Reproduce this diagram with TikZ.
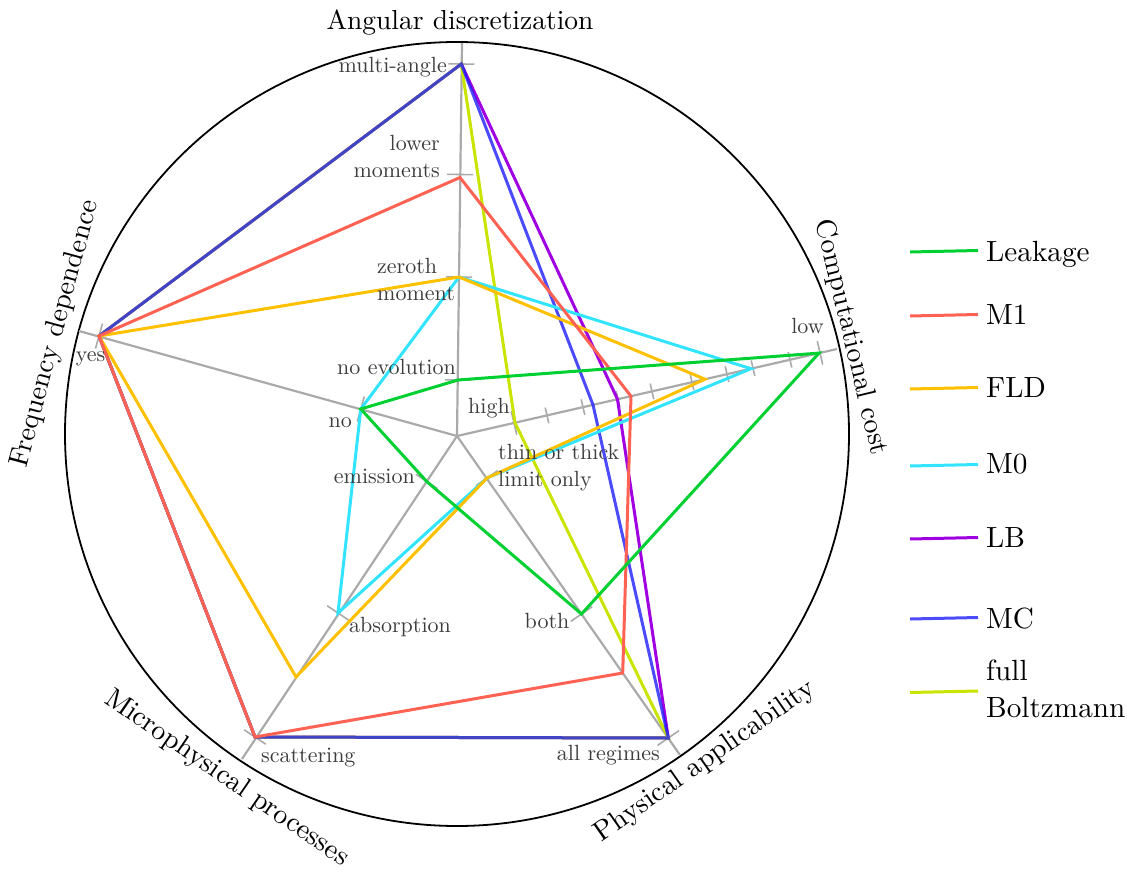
\documentclass[tikz,border=0pt]{standalone}
\usepackage{fontspec}
\setmainfont{lmroman10-regular.otf}
\definecolor{cLeak}{RGB}{0,208,50}
\definecolor{cMone}{RGB}{255,98,82}
\definecolor{cFLD}{RGB}{255,192,0}
\definecolor{cMzero}{RGB}{50,228,255}
\definecolor{cLB}{RGB}{160,0,225}
\definecolor{cMC}{RGB}{30,30,250}
\definecolor{cFB}{RGB}{200,228,0}
\definecolor{axisgray}{RGB}{170,170,170}
\definecolor{labelgray}{RGB}{60,60,60}
\begin{document}
\begin{tikzpicture}[x=1pt,y=-1pt,
  spoke/.style={draw=axisgray,line width=2.2pt},
  tickline/.style={draw=axisgray,line width=1.6pt},
  rim/.style={draw=black,line width=1.8pt},
  series/.style={line width=3pt},
  sLeak/.style={series,draw=cLeak},
  sMone/.style={series,draw=cMone},
  sFLD/.style={series,draw=cFLD},
  sMzero/.style={series,draw=cMzero},
  sLB/.style={series,draw=cLB},
  sMC/.style={series,draw=cMC,draw opacity=0.8},
  sFB/.style={series,draw=cFB},
  lbl/.style={text=labelgray,font=\fontsize{22}{27}\selectfont,inner sep=0pt},
  ttl/.style={font=\fontsize{28}{33}\selectfont,inner sep=0pt},
  legtxt/.style={font=\fontsize{29.2}{37}\selectfont,inner sep=0pt}]
\useasboundingbox (0,0) rectangle (1127,872);

% outer circle
\draw[rim] (457,434) circle[radius=392pt];

% centre and axis ends
\coordinate (C) at (457,436);
\coordinate (eA) at (462,43);
\coordinate (eK) at (837,349);
\coordinate (eP) at (680,755);
\coordinate (eM) at (242,759);
\coordinate (eF) at (79,331);
\draw[spoke] (C) -- (eA);
\draw[spoke] (C) -- (eK);
\draw[spoke] (C) -- (eP);
\draw[spoke] (C) -- (eM);
\draw[spoke] (C) -- (eF);

% levels: angular discretization
\coordinate (aNo) at (458,380);
\coordinate (aZero) at (459,277);
\coordinate (aLow) at (460,174.5);
\coordinate (aMone) at (460,177.5);
\coordinate (aMulti) at (461.3,64);
% computational cost
\coordinate (kFB) at (515,422.8);
\coordinate (kMC) at (593,404.9);
\coordinate (kLB) at (617.5,399.3);
\coordinate (kMone) at (631,396.2);
\coordinate (kFLD) at (705,379.2);
\coordinate (kMzero) at (751,368.7);
\coordinate (kLeak) at (819,353.1);
% physical applicability
\coordinate (pThin) at (487,478);
\coordinate (pBoth) at (581.5,614);
\coordinate (pMone) at (622.7,673);
\coordinate (pAll) at (668.3,738);
% microphysical processes
\coordinate (mEmis) at (426.7,481.5);
\coordinate (mAbs) at (338,613);
\coordinate (mFLD) at (296,677);
\coordinate (mScat) at (255,737);
% frequency dependence
\coordinate (fNo) at (360.8,409);
\coordinate (fYes) at (99,336);

% ticks
\foreach \p in {aNo,aZero,aLow,aMulti}
  \draw[tickline] (\p) ++(-13,-0.17) -- ++(26,0.34);
\foreach \x/\y in {547/415.4,583/407.2,618/399.1,652/391.4,692/382.2,727/374.2,753/368.2,790/359.8}
  \draw[tickline] (\x,\y) ++(-1.8,-7.8) -- ++(3.6,15.6);
\foreach \x/\y in {514/422.95,820/352.9}
  \draw[tickline] (\x,\y) ++(-2.7,-11.7) -- ++(5.4,23.4);
\foreach \p in {pThin,pBoth,pAll}
  \draw[tickline] (\p) ++(-10.7,7.4) -- ++(21.4,-14.8);
\foreach \p in {mEmis,mAbs,mScat}
  \draw[tickline] (\p) ++(-10.8,-7.2) -- ++(21.6,14.4);
\foreach \p in {fNo,fYes}
  \draw[tickline] (\p) ++(-3.5,12.5) -- ++(7,-25);

% series
\draw[sLB] (aMulti) -- (kLB) -- (pAll) -- (mScat) -- (fYes) -- cycle;
\draw[sFB] (aMulti) -- (kFB) -- (pAll) -- (mScat) -- (fYes) -- cycle;
\draw[sMC] (aMulti) -- (kMC) -- (pAll) -- (mScat) -- (fYes) -- cycle;
\draw[sMzero] (aZero) -- (kMzero) -- (pThin) -- (mAbs) -- (fNo) -- cycle;
\draw[sFLD] (aZero) -- (kFLD) -- (pThin) -- (mFLD) -- (fYes) -- cycle;
\draw[sMone] (aMone) -- (kMone) -- (pMone) -- (mScat) -- (fYes) -- cycle;
\draw[sLeak] (aNo) -- (kLeak) -- (pBoth) -- (mEmis) -- (fNo) -- cycle;

% level labels
\node[lbl,anchor=base east] (tMulti) at (447,73) {multi-angle};
\node[lbl,anchor=east,align=right] (tLower) at (440,156.3) {lower\\moments};
\node[lbl,anchor=west,align=left] (tZero) at (377,279) {zeroth\\moment};
\node[lbl,anchor=base east] (tNoEvo) at (456,374) {no evolution};
\node[lbl,anchor=base east] (tNo) at (352,427) {no};
\node[lbl,anchor=base west] (tHigh) at (468,413) {high};
\node[lbl,anchor=base east] (tEmis) at (415,483) {emission};
\node[lbl,anchor=west,align=left] (tThin) at (498,468) {thin or thick\\limit only};
\node[lbl,anchor=base] (tLow) at (807.5,333) {low};
\node[lbl,anchor=base] (tYes) at (90.5,361) {yes};
\node[lbl,anchor=base west] (tAbs) at (349,632) {absorption};
\node[lbl,anchor=base east] (tBoth) at (569.5,628.5) {both};
\node[lbl,anchor=base west] (tScat) at (261,762) {scattering};
\node[lbl,anchor=base east] (tAll) at (660,760) {all regimes};

% axis titles
\node[ttl,font=\fontsize{27.5}{33}\selectfont,anchor=base] (ttlA) at (460,30) {Angular discretization};
\node[ttl,rotate=-76.5] (ttlK) at (851,337.5) {Computational cost};
\node[ttl,rotate=75] (ttlF) at (55.5,334) {Frequency dependence};
\node[ttl,rotate=-34.5] (ttlM) at (226.5,778.5) {Microphysical processes};
\node[ttl,rotate=35] (ttlP) at (705,761.5) {Physical applicability};

% legend
\coordinate (gLa) at (910,252);   \coordinate (gLb) at (978,250.5);
\coordinate (gMa) at (910,316);   \coordinate (gMb) at (978,314.5);
\coordinate (gFa) at (910,389);   \coordinate (gFb) at (978,387.5);
\coordinate (gZa) at (910,466);   \coordinate (gZb) at (978,464.5);
\coordinate (gBa) at (910,539);   \coordinate (gBb) at (978,537.5);
\coordinate (gCa) at (910,619);   \coordinate (gCb) at (978,617.5);
\coordinate (gYa) at (910,692.5); \coordinate (gYb) at (978,691);
\draw[sLeak] (gLa) -- (gLb);
\draw[sMone] (gMa) -- (gMb);
\draw[sFLD] (gFa) -- (gFb);
\draw[sMzero] (gZa) -- (gZb);
\draw[sLB] (gBa) -- (gBb);
\draw[sMC] (gCa) -- (gCb);
\draw[sFB] (gYa) -- (gYb);
\node[legtxt,anchor=base west] (xL) at (986,261) {Leakage};
\node[legtxt,anchor=base west] (xM) at (986,324) {M1};
\node[legtxt,anchor=base west] (xF) at (986,397) {FLD};
\node[legtxt,anchor=base west] (xZ) at (986,473) {M0};
\node[legtxt,anchor=base west] (xB) at (986,547) {LB};
\node[legtxt,anchor=base west] (xC) at (986,628) {MC};
\node[legtxt,anchor=west,align=left] (xY) at (986,688.5) {full\\Boltzmann};
\end{tikzpicture}
\end{document}
